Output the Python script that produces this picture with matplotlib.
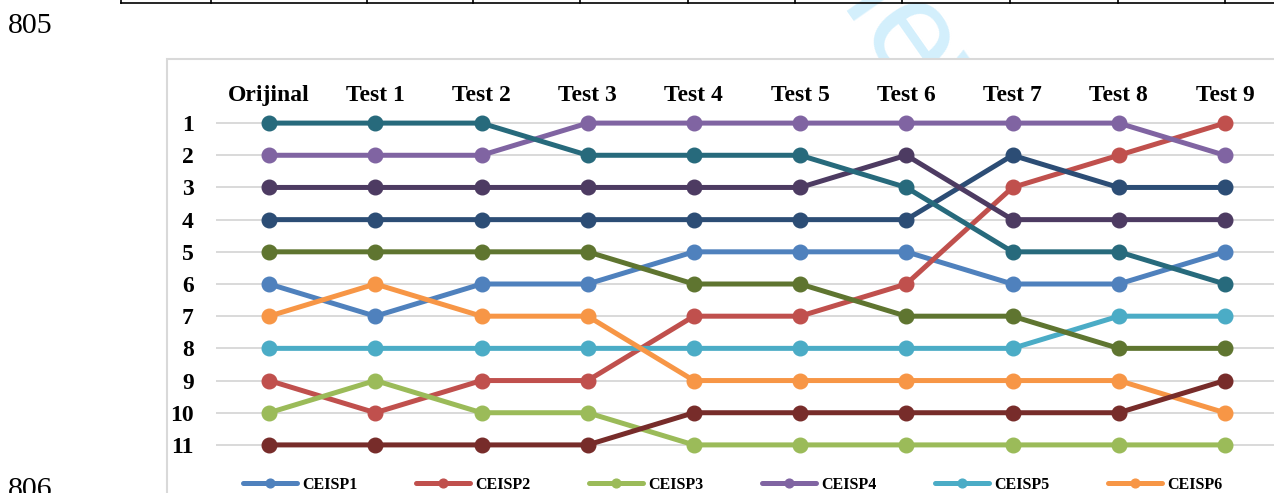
import numpy as np
import matplotlib.pyplot as plt
from matplotlib.patches import Rectangle
from matplotlib.lines import Line2D

# Sıralama verisi (1 = en iyi)
testler = ['Orijinal', 'Test 1', 'Test 2', 'Test 3', 'Test 4',
           'Test 5', 'Test 6', 'Test 7', 'Test 8', 'Test 9']
seriler = ['CEISP1', 'CEISP2', 'CEISP3', 'CEISP4', 'CEISP5', 'CEISP6',
           'CEISP7', 'CEISP8', 'CEISP9', 'CEISP10', 'CEISP11']

ceisp1 = [6, 7, 6, 6, 5, 5, 5, 6, 6, 5]
ceisp2 = [9, 10, 9, 9, 7, 7, 6, 3, 2, 1]
ceisp3 = [10, 9, 10, 10, 11, 11, 11, 11, 11, 11]
ceisp4 = [2, 2, 2, 1, 1, 1, 1, 1, 1, 2]
ceisp5 = [8, 8, 8, 8, 8, 8, 8, 8, 7, 7]
ceisp6 = [7, 6, 7, 7, 9, 9, 9, 9, 9, 10]
ceisp7 = [4, 4, 4, 4, 4, 4, 4, 2, 3, 3]
ceisp8 = [11, 11, 11, 11, 10, 10, 10, 10, 10, 9]
ceisp9 = [5, 5, 5, 5, 6, 6, 7, 7, 8, 8]
ceisp10 = [3, 3, 3, 3, 3, 3, 2, 4, 4, 4]
ceisp11 = [1, 1, 1, 2, 2, 2, 3, 5, 5, 6]

siralar = [ceisp1, ceisp2, ceisp3, ceisp4, ceisp5, ceisp6,
           ceisp7, ceisp8, ceisp9, ceisp10, ceisp11]

renkler = ['#4F81BD', '#C0504D', '#9BBB59', '#8064A2', '#4BACC6', '#F79646',
           '#2C4D75', '#772C2A', '#5F7530', '#4D3B62', '#276A7C']

W, H = 1274, 493
fig = plt.figure(figsize=(W / 100, H / 100), dpi=100)

def fx(px):
    return px / W

def fy(py):
    return 1 - py / H

# Sayfa kalıntıları: satır numaraları ve üstteki tablo çizgisi
serif = 'Liberation Serif'
fig.text(fx(8), fy(33), '805', fontsize=21.5, family=serif, va='baseline')
fig.text(fx(8), fy(497), '806', fontsize=21.5, family=serif, va='baseline')
fig.add_artist(Line2D([fx(121), 1], [fy(3), fy(3)], color='black', lw=1.2))
for xk in [121, 211, 367, 473, 580, 688, 795, 902, 1010, 1118, 1225]:
    fig.add_artist(Line2D([fx(xk), fx(xk)], [1, fy(3)], color='black', lw=1.2))

# Filigran
fig.text(fx(694), fy(-190), 'Review', fontsize=100, family='Liberation Sans',
         color='#D3EFFC', rotation=-55, rotation_mode='anchor',
         ha='left', va='baseline', zorder=0)

# Grafik alanı çerçevesi
fig.add_artist(Rectangle((fx(167), -0.2), 1.0, fy(59) + 0.2,
                         transform=fig.transFigure, facecolor='white',
                         edgecolor='#D9D9D9', lw=1.5, zorder=1))

ax = fig.add_axes([fx(216), fy(461), fx(1278) - fx(216), fy(107) - fy(461)],
                  zorder=2)
ax.set_facecolor('none')

x = np.arange(len(testler))
for ad, s, c in zip(seriler, siralar, renkler):
    ax.plot(x, s, color=c, lw=3.6, marker='o', markersize=10.5,
            solid_capstyle='round', label=ad)

ax.set_xlim(-0.5, len(testler) - 0.5)
ax.set_ylim(11.5, 0.5)
ax.set_yticks(range(1, 12))
ax.set_xticks(x)
ax.set_xticklabels(testler)
ax.xaxis.tick_top()
ax.tick_params(axis='both', length=0, labelsize=17)
ax.tick_params(axis='y', pad=16)
ax.tick_params(axis='x', pad=1)
for lab in ax.get_xticklabels() + ax.get_yticklabels():
    lab.set_fontfamily(serif)
    lab.set_fontweight('bold')
ax.grid(axis='y', color='#D9D9D9', lw=1.4)
ax.set_axisbelow(True)
for sp in ax.spines.values():
    sp.set_visible(False)

leg = fig.legend(loc='center left', bbox_to_anchor=(fx(243), fy(485)),
                 ncol=len(seriler), frameon=False, borderpad=0,
                 borderaxespad=0, handlelength=3.38, handletextpad=0.31,
                 columnspacing=3.68, markerscale=0.6,
                 prop={'family': serif, 'weight': 'bold', 'size': 11.5})

fig.savefig('out.png', dpi=100)
